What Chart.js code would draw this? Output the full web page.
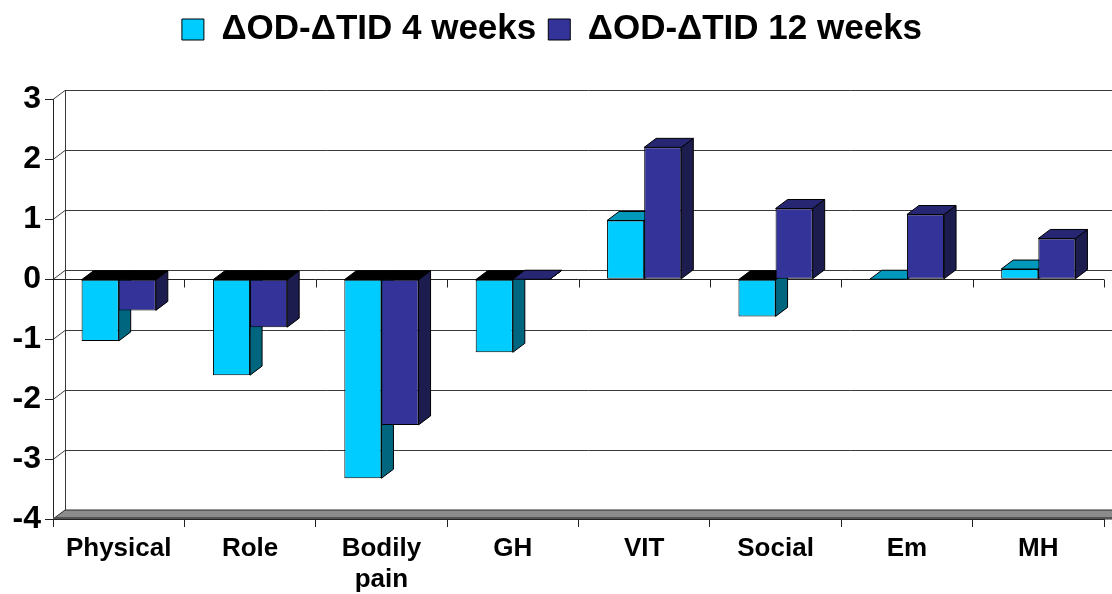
<!DOCTYPE html>
<html>
<head>
<meta charset="utf-8">
<script src="https://cdn.jsdelivr.net/npm/chart.js@4.4.1/dist/chart.umd.min.js"></script>
<style>
  html, body { margin: 0; padding: 0; background: #fff; }
  #wrap { width: 1112px; height: 594px; }
</style>
</head>
<body>
<div id="wrap"><canvas id="chart"></canvas></div>
<script>
const categories = ["Physical", "Role", ["Bodily", "pain"], "GH", "VIT", "Social", "Em", "MH"];
const weeks4 = [-1.03, -1.6, -3.32, -1.22, 0.98, -0.62, 0, 0.17];
const weeks12 = [-0.52, -0.8, -2.43, 0, 2.2, 1.18, 1.08, 0.68];
const seriesNames = ["\u0394OD-\u0394TID 4 weeks", "\u0394OD-\u0394TID 12 weeks"];
const yTicks = [3, 2, 1, 0, -1, -2, -3, -4];

const FONT = "'Liberation Sans', Arial, sans-serif";
const DX = 12, DY = -9;   // depth offset of the 3d look

const shades = [
  { front: "#00CCFF", top: "#0099BB", side: "#006680" },
  { front: "#333399", top: "#262673", side: "#1C1C4E" }
];

function poly(ctx, pts, fill, stroke) {
  ctx.beginPath();
  ctx.moveTo(pts[0][0], pts[0][1]);
  for (let i = 1; i < pts.length; i++) ctx.lineTo(pts[i][0], pts[i][1]);
  ctx.closePath();
  ctx.fillStyle = fill;
  ctx.fill();
  if (stroke) {
    ctx.strokeStyle = stroke;
    ctx.stroke();
  }
}

/* walls, floor and the sides/tops of the bars */
const depth = {
  id: "depth",
  beforeDatasetsDraw(chart) {
    const { ctx, chartArea: a, scales: { x, y } } = chart;
    const W = chart.width;
    ctx.save();
    ctx.lineWidth = 1;

    // back wall grid lines + little diagonals on the side wall
    ctx.strokeStyle = "#3a3a3a";
    yTicks.forEach(v => {
      if (v === -4) return;
      const py = Math.round(y.getPixelForValue(v)) + 0.5;
      ctx.beginPath();
      ctx.moveTo(a.left + DX, py + DY);
      ctx.lineTo(W, py + DY);
      ctx.moveTo(a.left, py);
      ctx.lineTo(a.left + DX, py + DY);
      ctx.stroke();
    });
    // back wall left edge
    ctx.beginPath();
    ctx.moveTo(a.left + DX + 0.5, a.top + DY);
    ctx.lineTo(a.left + DX + 0.5, a.bottom + DY);
    ctx.stroke();

    // floor slab
    const fb = a.bottom;
    poly(ctx, [[a.left, fb], [a.left + DX, fb + DY], [W + 20, fb + DY], [W + 20 - DX, fb]], "#8c8c8c", "#2a2a2a");
    ctx.fillStyle = "#555";
    ctx.fillRect(a.left, fb - 2, W - a.left, 2);

    // zero plane front edge with category ticks
    const y0 = Math.round(y.getPixelForValue(0)) + 0.5;
    const half = (x.getPixelForValue(1) - x.getPixelForValue(0)) / 2;
    ctx.strokeStyle = "#222";
    ctx.beginPath();
    ctx.moveTo(a.left, y0);
    ctx.lineTo(a.right, y0);
    for (let i = 0; i <= categories.length; i++) {
      const px = Math.round(x.getPixelForValue(0) - half + i * 2 * half) + 0.5;
      ctx.moveTo(px, y0);
      ctx.lineTo(px, y0 + 8);
    }
    ctx.stroke();

    // bar side and top faces
    for (let c = 0; c < categories.length; c++) {
      chart.data.datasets.forEach((ds, di) => {
        const el = chart.getDatasetMeta(di).data[c];
        const v = ds.data[c];
        const l = el.x - el.width / 2, r = el.x + el.width / 2;
        const t = Math.min(el.y, el.base), b = Math.max(el.y, el.base);
        poly(ctx, [[r, t], [r + DX, t + DY], [r + DX, b + DY], [r, b]], shades[di].side, "#000");
        poly(ctx, [[l, t], [l + DX, t + DY], [r + DX, t + DY], [r, t]], v < 0 ? "#000" : shades[di].top, "#000");
      });
    }
    ctx.restore();
  }
};

new Chart(document.getElementById("chart"), {
  type: "bar",
  data: {
    labels: categories,
    datasets: [
      {
        label: seriesNames[0],
        data: weeks4,
        backgroundColor: shades[0].front,
        borderColor: "#000",
        borderWidth: 1,
        borderSkipped: false,
        categoryPercentage: 0.565,
        barPercentage: 1
      },
      {
        label: seriesNames[1],
        data: weeks12,
        backgroundColor: shades[1].front,
        borderColor: "#000",
        borderWidth: 1,
        borderSkipped: false,
        categoryPercentage: 0.565,
        barPercentage: 1
      }
    ]
  },
  options: {
    responsive: true,
    maintainAspectRatio: false,
    animation: false,
    layout: { padding: { top: 0, right: 8, left: 0, bottom: 0 } },
    plugins: {
      tooltip: { enabled: false },
      legend: {
        position: "top",
        labels: {
          boxWidth: 22,
          boxHeight: 21,
          padding: 12,
          color: "#000",
          font: { family: FONT, size: 35, weight: "bold" }
        }
      },
      // empty spacer under the legend
      title: {
        display: true,
        text: " ",
        weight: 500,
        padding: { top: 0, bottom: 40 },
        font: { size: 2 }
      }
    },
    scales: {
      x: {
        afterFit(s) { s.height = 75; },
        grid: { offset: true, drawOnChartArea: false, tickLength: 8, color: "#222" },
        border: { display: true, color: "#222" },
        ticks: {
          color: "#000",
          padding: 6,
          maxRotation: 0,
          font: { family: FONT, size: 26, weight: "bold" }
        }
      },
      y: {
        min: -4,
        max: 3,
        afterFit(s) { s.width = 53; },
        grid: { drawOnChartArea: false, tickLength: 8, color: "#222" },
        border: { display: true, color: "#222" },
        ticks: {
          stepSize: 1,
          color: "#000",
          padding: 4,
          font: { family: FONT, size: 32, weight: "bold" }
        }
      }
    }
  },
  plugins: [depth]
});
</script>
</body>
</html>
